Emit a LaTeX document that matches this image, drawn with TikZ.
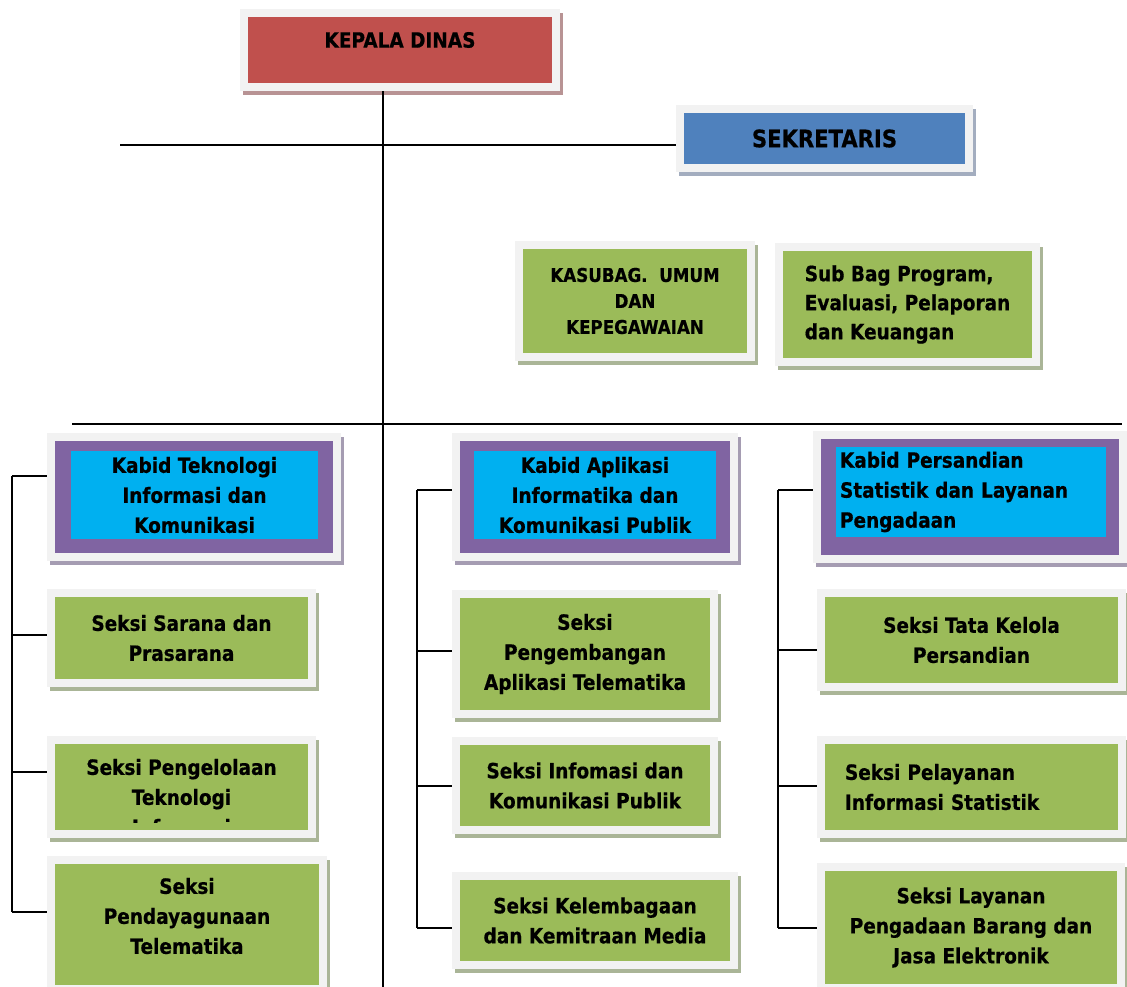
\documentclass[tikz,border=0pt]{standalone}
\usepackage{fontspec}
\setmainfont{DejaVu Sans}[BoldFeatures={FakeStretch=0.88,FakeBold=0.6}]
\definecolor{kepred}{HTML}{C0504D}
\definecolor{sekblue}{HTML}{4F81BD}
\definecolor{seksigreen}{HTML}{9BBB59}
\definecolor{kabidpurple}{HTML}{8064A2}
\definecolor{kabidcyan}{HTML}{00B0F0}
\definecolor{framegray}{HTML}{F2F2F2}
\definecolor{redshade}{HTML}{B89394}
\definecolor{blueshade}{HTML}{A3ADBF}
\definecolor{greenshade}{HTML}{AAB597}
\definecolor{purpleshade}{HTML}{A59CB2}
\tikzset{
  unitbox/.style={draw=framegray, line width=8pt, inner sep=0pt, align=center,
    font=\bfseries\fontsize{21}{30}\selectfont,
    preaction={draw=#1, fill=#1, line width=8pt, transform canvas={shift={(3pt,-4pt)}}}},
  seksibox/.style={unitbox=greenshade, fill=seksigreen},
  kabidbox/.style={unitbox=purpleshade, fill=kabidpurple},
  kabidtext/.style={fill=kabidcyan, inner sep=0pt, align=center,
    font=\bfseries\fontsize{21}{30}\selectfont},
  boxtext/.style={inner sep=0pt, align=center, font=\bfseries\fontsize{21}{30}\selectfont},
  orgline/.style={line width=1.8pt, black},
}
\begin{document}
\begin{tikzpicture}[x=1pt,y=-1pt]
  \useasboundingbox (0,0) rectangle (1127,987);
  % top: kepala dinas and sekretaris
  \node[unitbox=redshade, fill=kepred, minimum width=312pt, minimum height=74pt] (kepala) at (400,50) {};
  \node[boxtext] (kepalatxt) at (400,40) {KEPALA DINAS};
  \node[unitbox=blueshade, fill=sekblue, minimum width=289pt, minimum height=59pt,
    font=\bfseries\fontsize{24}{30}\selectfont] (sekr) at (824.5,138.5) {SEKRETARIS};
  \node[seksibox, minimum width=232pt, minimum height=112pt,
    font=\bfseries\fontsize{19}{26}\selectfont] (kasubag) at (635,301) {KASUBAG.\ \ UMUM\\DAN\\KEPEGAWAIAN};
  \node[seksibox, align=left, minimum width=257pt, minimum height=115pt,
    font=\bfseries\fontsize{21}{29}\selectfont] (subbag) at (907.5,304.5) {Sub Bag Program,\\Evaluasi, Pelaporan\\dan Keuangan};
  % the three kabid
  \node[kabidbox, minimum width=286pt, minimum height=120pt] (kabtik) at (194,497) {};
  \node[kabidtext, minimum width=247pt, minimum height=88pt] (kabtiktxt) at (194.5,495) {Kabid Teknologi\\Informasi dan\\Komunikasi};
  \node[kabidbox, minimum width=278pt, minimum height=120pt] (kabapl) at (595,497) {};
  \node[kabidtext, minimum width=242pt, minimum height=88pt] (kabapltxt) at (595,495) {Kabid Aplikasi\\Informatika dan\\Komunikasi Publik};
  \node[kabidbox, minimum width=306pt, minimum height=124pt] (kabsan) at (970,497) {};
  \node[kabidtext, align=left, text width=262pt, inner xsep=4pt, minimum height=90pt] (kabsantxt) at (971,492) {Kabid Persandian\\Statistik dan Layanan\\Pengadaan};
  % seksi left
  \node[seksibox, minimum width=261pt, minimum height=90pt] (sarana) at (181.5,638) {Seksi Sarana dan\\Prasarana};
  \node[seksibox, minimum width=261pt, minimum height=94pt] (kelola) at (181.5,787) {};
  \begin{scope}
    \clip ([shift={(8pt,-8pt)}]kelola.north west) rectangle ([shift={(-8pt,16pt)}]kelola.south east);
    \node[boxtext] (kelolatxt) at (181.5,797) {Seksi Pengelolaan\\Teknologi\\Informasi};
  \end{scope}
  \node[seksibox, minimum width=272pt, minimum height=129pt] (daya) at (187,924.5) {};
  \node[boxtext] (dayatxt) at (187,916) {Seksi\\Pendayagunaan\\Telematika};
  % seksi middle
  \node[seksibox, minimum width=258pt, minimum height=120pt] (kembang) at (585,654) {Seksi\\Pengembangan\\Aplikasi Telematika};
  \node[seksibox, minimum width=258pt, minimum height=89pt] (infokom) at (585,785.5) {Seksi Infomasi dan\\Komunikasi Publik};
  \node[seksibox, minimum width=278pt, minimum height=89pt] (lembaga) at (595,920.5) {Seksi Kelembagaan\\dan Kemitraan Media};
  % seksi right
  \node[seksibox, minimum width=301pt, minimum height=94pt] (tatakelola) at (971.5,640) {Seksi Tata Kelola\\Persandian};
  \node[seksibox, align=left, text width=253pt, inner xsep=24pt, minimum height=94pt] (statistik) at (971.5,787) {Seksi Pelayanan\\Informasi Statistik};
  \node[seksibox, minimum width=300pt, minimum height=121pt] (pengadaan) at (971,927.5) {Seksi Layanan\\Pengadaan Barang dan\\Jasa Elektronik};
  % main lines
  \coordinate (spine) at (383,987);
  \coordinate (sekline) at (120,145);
  \coordinate (kabidleft) at (72,424);
  \coordinate (kabidright) at (1122,424);
  \draw[orgline] (kepala.south -| spine) -- (spine);
  \draw[orgline] (sekline) -- (sekline -| sekr.west);
  \draw[orgline] (kabidleft) -- (kabidright);
  % bus lines of the three bidang
  \coordinate (bustik) at (12,476);
  \coordinate (bussarana) at (12,635);
  \coordinate (buskelola) at (12,772);
  \coordinate (busdaya) at (12,912);
  \coordinate (busapl) at (417,490);
  \coordinate (buskembang) at (417,651);
  \coordinate (businfokom) at (417,786);
  \coordinate (buslembaga) at (417,928);
  \coordinate (bussan) at (778,490);
  \coordinate (bustata) at (778,650);
  \coordinate (busstat) at (778,786);
  \coordinate (buspengadaan) at (778,928);
  \draw[orgline] (bustik) -- (busdaya);
  \draw[orgline] (busapl) -- (buslembaga);
  \draw[orgline] (bussan) -- (buspengadaan);
  \foreach \b/\n in {bustik/kabtik, bussarana/sarana, buskelola/kelola, busdaya/daya,
    busapl/kabapl, buskembang/kembang, businfokom/infokom, buslembaga/lembaga,
    bussan/kabsan, bustata/tatakelola, busstat/statistik, buspengadaan/pengadaan}
    \draw[orgline] (\b) -- (\b -| \n.west);
\end{tikzpicture}
\end{document}
